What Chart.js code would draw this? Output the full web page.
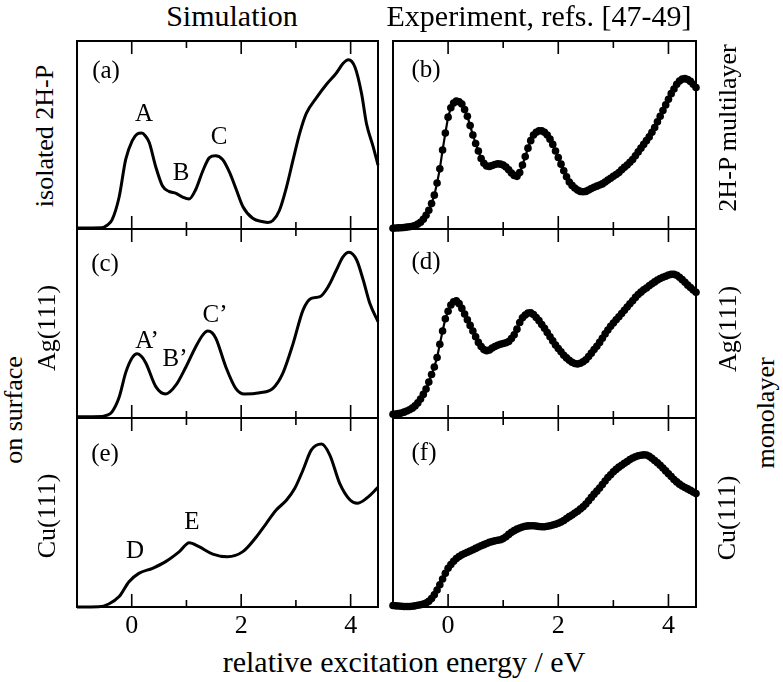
<!DOCTYPE html>
<html><head><meta charset="utf-8">
<script src="https://cdn.jsdelivr.net/npm/chart.js@4.4.1/dist/chart.umd.min.js"></script>
<style>
html,body{margin:0;padding:0;background:#fff}
body{width:783px;height:682px;position:relative;overflow:hidden;font-family:"Liberation Serif","Times New Roman",serif;color:#000}
.t{position:absolute;white-space:nowrap;line-height:1;transform:translate(-50%,-50%)}
.r{transform:translate(-50%,-50%) rotate(-90deg)}
.p{position:absolute}
</style></head><body>
<script>
// ---------- DATA ----------
const xMin = -1, xMax = 4.5;
const tickValues = [0, 1, 2, 3, 4];
const tickLabels = ['0', '2', '4'];

// Simulation (a) isolated 2H-P
const simEnergyA = [-1.0,-0.55,-0.45,-0.36,-0.23,-0.11,0.01,0.10,0.18,0.25,0.32,0.44,0.56,0.68,0.81,0.93,1.05,1.17,1.30,1.42,1.53,1.66,1.79,1.91,2.03,2.21,2.40,2.49,2.58,2.70,2.83,2.95,3.07,3.19,3.38,3.56,3.74,3.86,3.96,4.08,4.20,4.29,4.41,4.50];
const simIntensityA = [0.005,0.006,0.02,0.048,0.17,0.37,0.47,0.505,0.51,0.495,0.46,0.33,0.23,0.20,0.19,0.17,0.16,0.21,0.31,0.38,0.39,0.37,0.30,0.21,0.12,0.057,0.039,0.035,0.045,0.10,0.225,0.37,0.51,0.615,0.70,0.77,0.83,0.88,0.90,0.86,0.72,0.56,0.44,0.34];
// Simulation (c) Ag(111)
const simEnergyC = [-1.0,-0.54,-0.45,-0.36,-0.23,-0.11,0.0,0.10,0.18,0.26,0.44,0.62,0.81,0.99,1.17,1.30,1.39,1.47,1.54,1.72,1.90,2.06,2.34,2.58,2.76,2.95,3.13,3.28,3.44,3.59,3.74,3.86,3.97,4.11,4.23,4.35,4.50];
const simIntensityC = [0.007,0.008,0.015,0.033,0.11,0.24,0.315,0.34,0.325,0.29,0.166,0.127,0.175,0.27,0.377,0.44,0.46,0.45,0.42,0.27,0.157,0.127,0.134,0.157,0.236,0.395,0.571,0.633,0.642,0.695,0.783,0.853,0.877,0.836,0.73,0.607,0.51];
// Simulation (e) Cu(111)
const simEnergyE = [-1.0,-0.6,-0.42,-0.23,-0.05,0.13,0.38,0.62,0.87,1.05,1.23,1.48,1.75,2.03,2.28,2.46,2.64,2.83,2.98,3.13,3.28,3.47,3.62,3.80,3.99,4.12,4.29,4.50];
const simIntensityE = [0.0,0.001,0.016,0.055,0.134,0.178,0.205,0.24,0.293,0.34,0.319,0.28,0.266,0.293,0.372,0.443,0.513,0.566,0.628,0.725,0.83,0.862,0.804,0.654,0.566,0.549,0.575,0.633];

// Experiment energies
const expEnergy = [
-1.00,-0.95,-0.90,-0.85,-0.80,-0.75,-0.70,-0.65,-0.60,-0.55,
-0.50,-0.45,-0.40,-0.35,-0.30,-0.25,-0.20,-0.15,-0.10,-0.05,
0.00,0.05,0.10,0.15,0.20,0.25,0.30,0.35,0.40,0.45,
0.50,0.55,0.60,0.65,0.70,0.75,0.80,0.85,0.90,0.95,
1.00,1.05,1.10,1.15,1.20,1.25,1.30,1.35,1.40,1.45,
1.50,1.55,1.60,1.65,1.70,1.75,1.80,1.85,1.90,1.95,
2.00,2.05,2.10,2.15,2.20,2.25,2.30,2.35,2.40,2.45,
2.50,2.55,2.60,2.65,2.70,2.75,2.80,2.85,2.90,2.95,
3.00,3.05,3.10,3.15,3.20,3.25,3.30,3.35,3.40,3.45,
3.50,3.55,3.60,3.65,3.70,3.75,3.80,3.85,3.90,3.95,
4.00,4.05,4.10,4.15,4.20,4.25,4.30,4.35,4.40,4.45,
4.50];
// (b) 2H-P multilayer
const expIntensityB = [
0.004,0.005,0.006,0.007,0.008,0.010,0.012,0.015,0.019,0.026,
0.036,0.052,0.073,0.100,0.135,0.180,0.245,0.320,0.420,0.510,
0.595,0.645,0.670,0.680,0.677,0.665,0.635,0.600,0.550,0.500,
0.455,0.415,0.375,0.350,0.335,0.333,0.338,0.343,0.347,0.345,
0.340,0.330,0.315,0.298,0.285,0.280,0.300,0.340,0.385,0.430,
0.470,0.500,0.515,0.522,0.522,0.515,0.500,0.478,0.450,0.415,
0.380,0.345,0.310,0.278,0.250,0.232,0.218,0.207,0.200,0.198,
0.200,0.207,0.215,0.222,0.228,0.234,0.240,0.250,0.260,0.270,
0.280,0.290,0.300,0.315,0.328,0.340,0.355,0.370,0.390,0.410,
0.430,0.450,0.470,0.490,0.515,0.540,0.570,0.600,0.630,0.660,
0.690,0.720,0.745,0.770,0.787,0.797,0.800,0.795,0.785,0.770,
0.752];
// (d) Ag(111) monolayer
const expIntensityD = [
0.020,0.021,0.023,0.026,0.031,0.037,0.044,0.052,0.064,0.080,
0.100,0.125,0.153,0.190,0.230,0.270,0.320,0.390,0.460,0.525,
0.565,0.598,0.615,0.620,0.605,0.580,0.550,0.520,0.490,0.460,
0.430,0.400,0.378,0.362,0.356,0.360,0.370,0.378,0.385,0.390,
0.394,0.398,0.405,0.420,0.440,0.470,0.505,0.530,0.545,0.555,
0.557,0.548,0.532,0.515,0.495,0.475,0.452,0.430,0.408,0.386,
0.368,0.350,0.332,0.318,0.305,0.295,0.288,0.286,0.290,0.298,
0.308,0.325,0.343,0.362,0.380,0.400,0.422,0.445,0.465,0.485,
0.503,0.520,0.536,0.553,0.570,0.587,0.604,0.620,0.638,0.653,
0.666,0.678,0.688,0.700,0.710,0.720,0.730,0.738,0.745,0.750,
0.756,0.760,0.760,0.755,0.745,0.732,0.718,0.703,0.690,0.677,
0.665];
// (f) Cu(111) monolayer
const expIntensityF = [
0.008,0.006,0.005,0.004,0.003,0.003,0.003,0.004,0.006,0.009,
0.012,0.016,0.021,0.030,0.045,0.065,0.090,0.118,0.148,0.178,
0.205,0.225,0.242,0.256,0.267,0.276,0.283,0.290,0.296,0.303,
0.310,0.317,0.324,0.330,0.336,0.342,0.346,0.350,0.353,0.356,
0.362,0.372,0.384,0.395,0.404,0.412,0.418,0.423,0.427,0.429,
0.430,0.430,0.428,0.426,0.425,0.425,0.427,0.430,0.434,0.438,
0.443,0.450,0.458,0.468,0.478,0.487,0.497,0.507,0.518,0.530,
0.545,0.562,0.580,0.597,0.613,0.630,0.648,0.667,0.685,0.700,
0.715,0.728,0.740,0.750,0.760,0.770,0.780,0.788,0.795,0.800,
0.803,0.805,0.804,0.797,0.787,0.775,0.763,0.750,0.735,0.720,
0.705,0.690,0.675,0.662,0.650,0.640,0.632,0.625,0.617,0.608,
0.600];

// ---------- LAYOUT ----------
const PAD = 8;
const cols = [[77, 378], [393, 696]];
const rows = [[41, 229], [229, 418], [418, 607]];

const frame = {
  id: 'frame',
  afterDatasetsDraw(chart) {
    const {ctx, chartArea: a, scales: {x}} = chart;
    ctx.save();
    ctx.strokeStyle = '#000';
    ctx.lineWidth = 2;
    ctx.strokeRect(a.left, a.top, a.right - a.left, a.bottom - a.top);
    ctx.lineWidth = 1.6;
    tickValues.forEach(v => {
      const px = x.getPixelForValue(v);
      const len = (v % 2 === 0) ? 13 : 7;
      ctx.beginPath();
      ctx.moveTo(px, a.top); ctx.lineTo(px, a.top + len);
      ctx.moveTo(px, a.bottom); ctx.lineTo(px, a.bottom - len);
      ctx.stroke();
    });
    ctx.restore();
  }
};

function toXY(xs, ys) { return xs.map((e, i) => ({x: e, y: ys[i]})); }

function makePanel(col, row, dataset, isBottom) {
  const [x0, x1] = cols[col], [y0, y1] = rows[row];
  const div = document.createElement('div');
  div.className = 'p';
  div.style.left = (x0 - PAD) + 'px';
  div.style.top = (y0 - PAD) + 'px';
  const cv = document.createElement('canvas');
  const W = x1 - x0 + 2 * PAD, H = y1 - y0 + 2 * PAD;
  cv.width = W; cv.height = H;
  cv.style.width = W + 'px'; cv.style.height = H + 'px';
  div.appendChild(cv);
  document.body.appendChild(div);
  const chart = new Chart(cv, {
    type: 'line',
    data: {datasets: [dataset]},
    options: {
      responsive: false, animation: false, devicePixelRatio: 1,
      layout: {padding: PAD},
      plugins: {legend: {display: false}, tooltip: {enabled: false}},
      events: [],
      scales: {
        x: {type: 'linear', min: xMin, max: xMax, display: false},
        y: {type: 'linear', min: 0, max: 1, display: false}
      }
    },
    plugins: [frame]
  });
  if (isBottom) {
    const sx = chart.scales.x;
    tickLabels.forEach(lbl => {
      const px = x0 - PAD + sx.getPixelForValue(Number(lbl));
      addText(lbl, px, 625, 26);
    });
  }
  return chart;
}

function simSet(xs, ys) {
  return {data: toXY(xs, ys), borderColor: '#000', borderWidth: 3, pointRadius: 0,
    fill: false, cubicInterpolationMode: 'monotone', clip: PAD};
}
function expSet(xs, ys) {
  return {data: toXY(xs, ys), borderColor: '#000', borderWidth: 2.2, pointRadius: 3.8,
    pointBackgroundColor: '#000', pointBorderWidth: 0, fill: false, tension: 0, clip: PAD};
}

function addText(s, x, y, size, rot) {
  const d = document.createElement('div');
  d.className = 't' + (rot ? ' r' : '');
  d.style.left = x + 'px'; d.style.top = y + 'px';
  d.style.fontSize = size + 'px';
  d.textContent = s;
  document.body.appendChild(d);
}

makePanel(0, 0, simSet(simEnergyA, simIntensityA), false);
makePanel(0, 1, simSet(simEnergyC, simIntensityC), false);
makePanel(0, 2, simSet(simEnergyE, simIntensityE), true);
makePanel(1, 0, expSet(expEnergy, expIntensityB), false);
makePanel(1, 1, expSet(expEnergy, expIntensityD), false);
makePanel(1, 2, expSet(expEnergy, expIntensityF), true);

// titles and axis label
addText('Simulation', 232, 16, 30);
addText('Experiment, refs. [47-49]', 539, 16, 30);
addText('relative excitation energy / eV', 404, 662, 30);
// panel tags
addText('(a)', 106, 69, 25);
addText('(b)', 426, 68, 25);
addText('(c)', 105, 262, 25);
addText('(d)', 426, 260, 25);
addText('(e)', 105, 452, 25);
addText('(f)', 424, 451, 25);
// peak labels
addText('A', 144, 112, 25);
addText('B', 181, 171, 25);
addText('C', 219, 135, 25);
addText('A\u2019', 147, 339, 25);
addText('B\u2019', 175, 357, 25);
addText('C\u2019', 215, 313, 25);
addText('D', 135, 549, 25);
addText('E', 192, 520, 25);
// side labels
addText('isolated 2H-P', 45, 136, 26, true);
addText('Ag(111)', 47, 328, 26, true);
addText('Cu(111)', 47, 516, 26, true);
addText('on surface', 14, 410, 26, true);
addText('2H-P multilayer', 728, 128, 26, true);
addText('Ag(111)', 728, 329, 26, true);
addText('Cu(111)', 727, 518, 26, true);
addText('monolayer', 766, 413, 26, true);
</script>
</body></html>
